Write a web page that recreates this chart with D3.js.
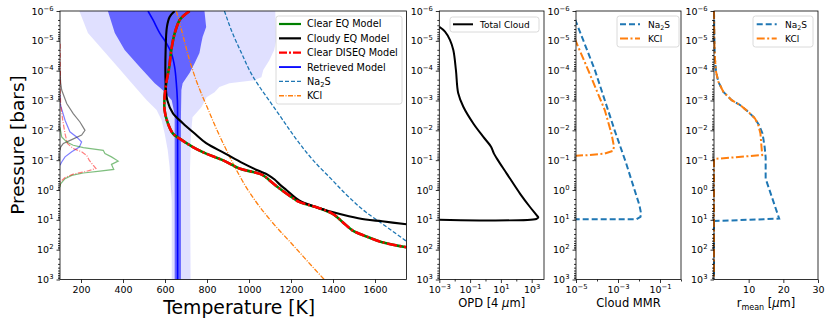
<!DOCTYPE html>
<html><head><meta charset="utf-8">
<script src="https://cdn.jsdelivr.net/npm/d3@7"></script>
<style>body{margin:0;background:#fff} svg{font-family:"DejaVu Sans",sans-serif}</style>
</head><body><svg id="c" width="831" height="326"></svg>
<script>
// ---------- tick values ----------
const pExp = [-6,-5,-4,-3,-2,-1,0,1,2,3];
const tempTicks = [200,400,600,800,1000,1200,1400,1600];
const opdTickExp = [-3,-1,1,3];
const opdMinorExp = [-2,0,2];
const mmrTickExp = [-5,-3,-1];
const mmrMinorExp = [-4,-2,0];
const rTicks = [10,20,30];

// ---------- panel 1 data: [T (K), log10 P (bar)] ----------
const cloudyEQ = [[646,-6],[622,-5.8],[609,-5.46],[603,-4.69],[603,-3.58],[611,-3.01],[638,-2.57],[685,-2.24],[740,-1.9],[796,-1.57],[885,-1.23],[970,-0.9],[1040,-0.66],[1092,-0.5],[1122,-0.35],[1147,-0.18],[1178,0.0],[1239,0.35],[1318,0.57],[1397,0.74],[1476,0.88],[1556,0.99],[1634,1.05],[1750,1.15]];
const clearEQ = [[717,-6],[690,-5.85],[670,-5.7],[646,-5.25],[630,-4.69],[620,-4.12],[606,-3.58],[598,-3.12],[598,-2.68],[614,-2.23],[638,-1.89],[670,-1.72],[733,-1.44],[796,-1.22],[875,-1.0],[954,-0.72],[1020,-0.6],[1065,-0.5],[1097,-0.33],[1136,-0.1],[1191,0.18],[1239,0.4],[1318,0.57],[1397,0.79],[1445,1.07],[1492,1.35],[1556,1.55],[1634,1.75],[1750,1.92]];
const clearDISEQ = [[717,-6],[690,-5.85],[670,-5.7],[646,-5.25],[630,-4.69],[620,-4.12],[606,-3.58],[598,-3.12],[598,-2.68],[614,-2.23],[638,-1.89],[670,-1.72],[733,-1.44],[796,-1.22],[875,-1.0],[954,-0.72],[1020,-0.6],[1065,-0.5],[1097,-0.33],[1136,-0.1],[1191,0.18],[1239,0.4],[1318,0.57],[1397,0.79],[1445,1.07],[1492,1.35],[1556,1.55],[1634,1.75],[1750,1.92]];
const retrieved = [[519,-6],[543,-5.7],[575,-5.26],[606,-4.93],[630,-4.59],[646,-4.12],[654,-3.58],[659,-3.01],[660,-2.0],[660,3]];
const na2sCond = [[883,-6],[922,-5.25],[965,-4.58],[1010,-3.91],[1050,-3.46],[1095,-3.01],[1140,-2.56],[1235,-1.61],[1305,-1.0],[1390,-0.38],[1476,0.24],[1556,0.74],[1634,1.13],[1750,1.72]];
const kclCond = [[654,-6],[683,-5.25],[717,-4.35],[754,-3.57],[800,-2.79],[848,-2.0],[893,-1.33],[941,-0.66],[995,0.0],[1055,0.6],[1125,1.2],[1210,1.85],[1280,2.4],[1358,3.0]];
// retrieval envelopes
const band2Left = [[192,-6],[233,-5.26],[304,-4.69],[375,-4.12],[442,-3.58],[513,-3.01],[560,-2.68],[584,-2.34],[598,-1.9],[613,-1.33],[622,-0.76],[632,0.35],[632,3]];
const band2Right = [[1125,-6],[1130,-5.03],[1120,-4.69],[1097,-4.35],[1068,-4.02],[1059,-3.78],[1025,-3.68],[907,-3.58],[859,-3.45],[836,-3.28],[798,-3.11],[774,-2.78],[731,-2.44],[724,-1.9],[719,-0.66],[722,3]];
const band1Left = [[328,-6],[361,-5.26],[408,-4.69],[480,-4.12],[551,-3.58],[589,-3.35],[632,-3.01],[646,-2.51],[646,3]];
const band1Right = [[788,-6],[796,-5.46],[779,-5.13],[773,-4.93],[764,-4.59],[741,-4.25],[717,-3.92],[684,-3.58],[678,-3.35],[676,-2.5],[676,3]];
// contribution functions (scaled to temperature axis)
const cfCloudy = [[100,-4.0],[103,-3.6],[108,-3.35],[132,-2.9],[163,-2.56],[195,-2.28],[219,-2.0],[203,-1.84],[156,-1.69],[116,-1.56],[103,-1.44],[100,-1.33]];
const cfRetrieved = [[100,-3.2],[100,-2.9],[124,-2.34],[147,-1.95],[179,-1.78],[203,-1.61],[192,-1.44],[156,-1.28],[124,-1.11],[108,-0.94],[100,-0.83]];
const cfClear = [[100,-2.1],[108,-1.78],[132,-1.61],[163,-1.5],[211,-1.42],[306,-1.33],[314,-1.22],[345,-1.11],[377,-0.97],[345,-0.86],[356,-0.69],[290,-0.63],[211,-0.57],[156,-0.49],[124,-0.38],[103,-0.21],[100,-0.1]];
const cfDiseq = [[101,-4.9],[102,-4.0],[101,-3.35],[103,-2.9],[113,-2.34],[124,-1.89],[135,-1.56],[163,-1.39],[203,-1.28],[227,-1.16],[239,-1.0],[258,-0.83],[271,-0.72],[227,-0.63],[163,-0.53],[124,-0.42],[103,-0.28],[100,-0.16]];

// ---------- panel 2: [log10 OPD, log10 P] ----------
const totalCloud = [[-3,-5.47],[-2.63,-5.31],[-2.31,-5.03],[-2.09,-4.69],[-1.92,-4.02],[-1.77,-3.24],[-1.44,-2.79],[-0.79,-2.23],[-0.14,-1.78],[0.36,-1.45],[0.55,-1.22],[0.73,-1.06],[1.38,-0.55],[2.24,0.12],[2.89,0.57],[3.33,0.85],[3.43,0.92],[3.3,0.97],[-6,0.97]];
// ---------- panel 3: [log10 MMR, log10 P] ----------
const mmrNa2S = [[-5.2,-6],[-5,-5.64],[-4.1,-4.02],[-3.16,-2.0],[-2.61,-0.89],[-2.21,0.0],[-1.98,0.51],[-1.9,0.79],[-1.93,0.9],[-2.13,0.98],[-8,0.98]];
const mmrKCl = [[-5.6,-6],[-5,-4.97],[-4.42,-4.02],[-3.63,-2.68],[-3.31,-1.89],[-3.19,-1.45],[-3.24,-1.31],[-3.63,-1.22],[-4.42,-1.17],[-5,-1.15],[-8,-1.13]];
// ---------- panel 4: [r_mean (um), log10 P] ----------
const rNa2S = [[0,-6],[0.05,-5.5],[0.15,-4.8],[0.3,-4.36],[0.6,-3.96],[1.25,-3.63],[2.7,-3.29],[5.1,-3.01],[7.5,-2.85],[9.9,-2.62],[11.8,-2.4],[13.0,-2.17],[14.0,-1.89],[14.6,-1.45],[14.9,-1.1],[14.9,-0.38],[18.8,0.96],[0,1.04],[0,3]];
const rKCl = [[0,-6],[0.05,-5.5],[0.15,-4.8],[0.3,-4.36],[0.6,-3.96],[1.25,-3.63],[2.7,-3.29],[5.1,-3.01],[7.5,-2.85],[9.9,-2.62],[11.8,-2.4],[12.8,-2.17],[13.4,-1.89],[13.7,-1.45],[13.9,-1.17],[0,-1.04],[0,3]];

// ---------- layout ----------
const svg = d3.select("#c");
const TOP = 11, BOT = 279.5;
const P = e => Math.pow(10, e);
const fmtE = e => (e < 0 ? "\u2212" + (-e) : "" + e);
const C = {green:"#008000", red:"#ff0000", blue:"#0000ff", black:"#000", tblue:"#1f77b4", torange:"#ff7f0e"};

function makeY(){ return d3.scaleLog().domain([1e-6,1e3]).range([TOP,BOT]); }

function clip(id, x0, x1){
  svg.append("clipPath").attr("id",id).append("rect").attr("x",x0).attr("y",TOP).attr("width",x1-x0).attr("height",BOT-TOP);
  return svg.append("g").attr("clip-path",`url(#${id})`);
}
function supLabel(sel, e){
  sel.text("");
  sel.append("tspan").text("10");
  sel.append("tspan").attr("dy",-4).attr("font-size",6.8).text(fmtE(e));
}
function yAxis(y, x0){
  const g = svg.append("g").attr("transform",`translate(${x0},0)`);
  g.call(d3.axisLeft(y).tickValues(pExp.map(P)).tickSize(3.5).tickPadding(3));
  g.selectAll(".tick text").each(function(d){ supLabel(d3.select(this), Math.round(Math.log10(d))); });
  const minors = [];
  for (let e=-6;e<3;e++) for (let m=2;m<10;m++) minors.push(m*P(e));
  const g2 = svg.append("g").attr("transform",`translate(${x0},0)`);
  g2.call(d3.axisLeft(y).tickValues(minors).tickSize(2).tickFormat(""));
  [g,g2].forEach(a=>{a.select(".domain").remove(); a.attr("font-size",9.5).attr("font-family","DejaVu Sans"); a.selectAll("line").attr("stroke-width",0.8);});
}
function xAxis(x, vals, fmt, minorVals){
  const g = svg.append("g").attr("transform",`translate(0,${BOT})`);
  g.call(d3.axisBottom(x).tickValues(vals).tickSize(3.5).tickPadding(3).tickFormat(d3.format("d")));
  if (fmt) g.selectAll(".tick text").each(function(d){ fmt(d3.select(this), d); });
  g.select(".domain").remove(); g.attr("font-size",9.5).attr("font-family","DejaVu Sans"); g.selectAll("line").attr("stroke-width",0.8);
  if (minorVals){
    const g2 = svg.append("g").attr("transform",`translate(0,${BOT})`);
    g2.call(d3.axisBottom(x).tickValues(minorVals).tickSize(2).tickFormat(""));
    g2.select(".domain").remove(); g2.selectAll("line").attr("stroke-width",0.8);
  }
}
function frame(x0,x1){
  svg.append("rect").attr("x",x0).attr("y",TOP).attr("width",x1-x0).attr("height",BOT-TOP).attr("fill","none").attr("stroke","#000").attr("stroke-width",0.8);
}
function legend(x0,y0,w,h,items,fs,handleX0,handleX1,textX,y1,dy){
  svg.append("rect").attr("x",x0).attr("y",y0).attr("width",w).attr("height",h).attr("rx",2.5)
    .attr("fill","#fff").attr("fill-opacity",0.8).attr("stroke","#d0d0d0").attr("stroke-width",0.8);
  items.forEach((it,i)=>{
    const yy = y1 + i*dy;
    svg.append("line").attr("x1",handleX0).attr("x2",handleX1).attr("y1",yy).attr("y2",yy)
      .attr("stroke",it.color).attr("stroke-width",it.w).attr("stroke-dasharray",it.dash||null);
    const t = svg.append("text").attr("x",textX).attr("y",yy+fs*0.36).attr("font-size",fs).attr("fill","#000");
    if (it.label === "Na2S"){ t.append("tspan").text("Na"); t.append("tspan").attr("dy",2.5).attr("font-size",fs*0.7).text("2"); t.append("tspan").attr("dy",-2.5).text("S"); }
    else t.text(it.label);
  });
}

// ================= Panel 1 =================
const X1a = 60, X1b = 406.5;
const x1 = d3.scaleLinear().domain([100,1750]).range([X1a,X1b]);
const y1 = makeY();
const g1 = clip("c1", X1a, X1b);
const ln1 = d3.line().x(d=>x1(d[0])).y(d=>y1(P(d[1])));
const sm1 = d3.line().x(d=>x1(d[0])).y(d=>y1(P(d[1]))).curve(d3.curveCatmullRom.alpha(0.5));
const mono1 = d3.line().x(d=>x1(d[0])).y(d=>y1(P(d[1]))).curve(d3.curveMonotoneY);
g1.append("path").attr("d", ln1(band2Left.concat(band2Right.slice().reverse()))+"Z").attr("fill",C.blue).attr("fill-opacity",0.12);
g1.append("path").attr("d", ln1(band1Left.concat(band1Right.slice().reverse()))+"Z").attr("fill",C.blue).attr("fill-opacity",0.55);
// contribution functions
g1.append("path").attr("d",ln1(cfCloudy)).attr("fill","none").attr("stroke","#000").attr("stroke-opacity",0.5).attr("stroke-width",1.2);
g1.append("path").attr("d",ln1(cfRetrieved)).attr("fill","none").attr("stroke",C.blue).attr("stroke-opacity",0.5).attr("stroke-width",1.2);
g1.append("path").attr("d",ln1(cfClear)).attr("fill","none").attr("stroke",C.green).attr("stroke-opacity",0.5).attr("stroke-width",1.2);
g1.append("path").attr("d",ln1(cfDiseq)).attr("fill","none").attr("stroke",C.red).attr("stroke-opacity",0.5).attr("stroke-width",1.2).attr("stroke-dasharray","5,1.5,1,1.5");
// condensation curves
g1.append("path").attr("d",mono1(na2sCond)).attr("fill","none").attr("stroke",C.tblue).attr("stroke-width",1.3).attr("stroke-dasharray","4,2");
g1.append("path").attr("d",mono1(kclCond)).attr("fill","none").attr("stroke",C.torange).attr("stroke-width",1.3).attr("stroke-dasharray","5,1.5,1,1.5");
// profiles
g1.append("path").attr("d",sm1(retrieved)).attr("fill","none").attr("stroke",C.blue).attr("stroke-width",1.6);
g1.append("path").attr("d",sm1(clearEQ)).attr("fill","none").attr("stroke",C.green).attr("stroke-width",2.6);
g1.append("path").attr("d",sm1(cloudyEQ)).attr("fill","none").attr("stroke",C.black).attr("stroke-width",2.1);
g1.append("path").attr("d",sm1(clearDISEQ)).attr("fill","none").attr("stroke",C.red).attr("stroke-width",2.6).attr("stroke-dasharray","10,2.5,2,2.5");
yAxis(y1, X1a);
xAxis(x1, tempTicks, null, null);
frame(X1a, X1b);
legend(276,16,126,88,[
  {label:"Clear EQ Model",color:C.green,w:2.2},
  {label:"Cloudy EQ Model",color:C.black,w:2.2},
  {label:"Clear DISEQ Model",color:C.red,w:2.2,dash:"8,2,2,2"},
  {label:"Retrieved Model",color:C.blue,w:1.8},
  {label:"Na2S",color:C.tblue,w:1.3,dash:"4,2"},
  {label:"KCl",color:C.torange,w:1.3,dash:"5,1.5,1,1.5"}
],9.7,279,301,307,24,14.35);
svg.append("text").attr("x",(X1a+X1b)/2+6).attr("y",314).attr("text-anchor","middle").attr("font-size",18.8).text("Temperature [K]");
svg.append("text").attr("transform","translate(23.5,145) rotate(-90)").attr("text-anchor","middle").attr("font-size",18.5).text("Pressure [bars]");

// ================= Panel 2 =================
const X2a = 439.3, X2b = 544;
const x2 = d3.scaleLog().domain([1e-3, P(3.8)]).range([X2a,X2b]);
const y2 = makeY();
const g2 = clip("c2", X2a, X2b);
const sm2 = d3.line().x(d=>x2(P(d[0]))).y(d=>y2(P(d[1]))).curve(d3.curveCatmullRom.alpha(0.5));
g2.append("path").attr("d",sm2(totalCloud)).attr("fill","none").attr("stroke","#000").attr("stroke-width",2);
yAxis(y2, X2a);
xAxis(x2, opdTickExp.map(P), (s,d)=>supLabel(s, Math.round(Math.log10(d))), opdMinorExp.map(P));
frame(X2a, X2b);
legend(450,17,89,15,[{label:"Total Cloud",color:"#000",w:2}],9,453,473,480,24.3,14);
const t2 = svg.append("text").attr("x",(X2a+X2b)/2).attr("y",307).attr("text-anchor","middle").attr("font-size",11.5);
t2.append("tspan").text("OPD [4 "); t2.append("tspan").attr("font-style","italic").text("\u03bc"); t2.append("tspan").text("m]");

// ================= Panel 3 =================
const X3a = 576, X3b = 681;
const x3 = d3.scaleLog().domain([1e-5, 1]).range([X3a,X3b]);
const y3 = makeY();
const g3 = clip("c3", X3a, X3b);
const ln3 = d3.line().x(d=>x3(P(d[0]))).y(d=>y3(P(d[1])));
g3.append("path").attr("d",ln3(mmrNa2S)).attr("fill","none").attr("stroke",C.tblue).attr("stroke-width",2).attr("stroke-dasharray","6,3");
g3.append("path").attr("d",ln3(mmrKCl)).attr("fill","none").attr("stroke",C.torange).attr("stroke-width",2).attr("stroke-dasharray","8,2.5,2,2.5");
yAxis(y3, X3a);
xAxis(x3, mmrTickExp.map(P), (s,d)=>supLabel(s, Math.round(Math.log10(d))), mmrMinorExp.map(P));
frame(X3a, X3b);
legend(617,16,62,31,[
  {label:"Na2S",color:C.tblue,w:2,dash:"6,3"},
  {label:"KCl",color:C.torange,w:2,dash:"8,2.5,2,2.5"}
],9,620,640,648,24.3,14.2);
svg.append("text").attr("x",(X3a+X3b)/2).attr("y",307).attr("text-anchor","middle").attr("font-size",11.5).text("Cloud MMR");

// ================= Panel 4 =================
const X4a = 714, X4b = 818;
const x4 = d3.scaleLinear().domain([0,30]).range([X4a,X4b]);
const y4 = makeY();
const g4 = clip("c4", X4a-2, X4b);
const ln4 = d3.line().x(d=>x4(d[0])).y(d=>y4(P(d[1])));
g4.append("path").attr("d",ln4(rNa2S)).attr("fill","none").attr("stroke",C.tblue).attr("stroke-width",2).attr("stroke-dasharray","6,3");
g4.append("path").attr("d",ln4(rKCl)).attr("fill","none").attr("stroke",C.torange).attr("stroke-width",2).attr("stroke-dasharray","8,2.5,2,2.5");
yAxis(y4, X4a);
xAxis(x4, rTicks, null, null);
frame(X4a, X4b);
legend(753,16,60,31,[
  {label:"Na2S",color:C.tblue,w:2,dash:"6,3"},
  {label:"KCl",color:C.torange,w:2,dash:"8,2.5,2,2.5"}
],9,756.7,776.7,785,24.3,14.2);
const t4 = svg.append("text").attr("x",(X4a+X4b)/2).attr("y",307).attr("text-anchor","middle").attr("font-size",11.5);
t4.append("tspan").text("r");
t4.append("tspan").attr("dy",2.5).attr("font-size",8).text("mean");
t4.append("tspan").attr("dy",-2.5).text(" [");
t4.append("tspan").attr("font-style","italic").text("\u03bc");
t4.append("tspan").text("m]");
</script></body></html>
